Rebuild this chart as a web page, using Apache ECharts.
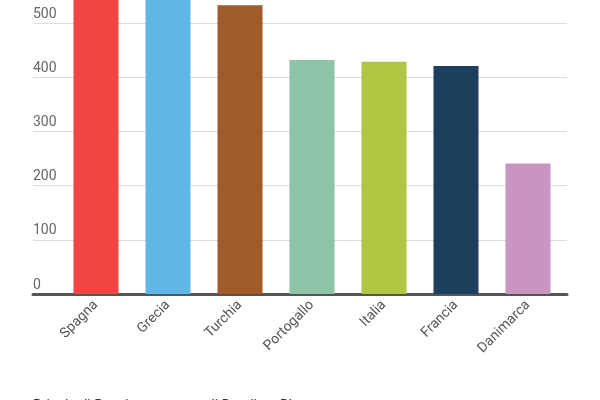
<!DOCTYPE html>
<html>
<head>
<meta charset="utf-8">
<script src="https://cdn.jsdelivr.net/npm/echarts@6/dist/echarts.min.js"></script>
<style>
  html, body { margin: 0; padding: 0; background: #fff; overflow: hidden; }
  /* the chart is taller than the window and shifted up: its top is cropped */
  #chart { width: 600px; height: 431px; position: relative; top: -31px; }
</style>
</head>
<body>
<div id="chart"></div>
<script>
// Bandiere Blu per Paese
const countries = ['Spagna', 'Grecia', 'Turchia', 'Portogallo', 'Italia', 'Francia', 'Danimarca']
const flags = [620, 550, 533, 432, 429, 421, 241]
const yTicks = [0, 100, 200, 300, 400, 500, 600]
const barColors = ['#ef4641', '#5fb7e5', '#a05a2c', '#8ec3a7', '#afc642', '#1b3f5c', '#c995c0']

const chart = echarts.init(document.getElementById('chart'))

const yMin = yTicks[0]
const yMax = yTicks[yTicks.length - 1]
const yStep = yTicks[1] - yTicks[0]

chart.setOption({
  animation: false,
  textStyle: { fontFamily: 'Roboto' },
  grid: [
    // background grid: gridlines + baseline
    { left: 33, right: 33, top: 0, bottom: 106, outerBoundsMode: 'none' },
    // bars
    { left: 60, right: 36, top: 0, bottom: 106, outerBoundsMode: 'none' },
  ],
  xAxis: [
    {
      gridIndex: 0,
      type: 'category',
      data: countries,
      axisLine: { show: true, lineStyle: { color: '#555', width: 3 } },
      axisTick: { show: false },
      axisLabel: { show: false },
    },
    {
      gridIndex: 1,
      type: 'category',
      data: countries,
      axisLine: { show: false },
      axisTick: { show: false },
      axisLabel: {
        rotate: 45,
        margin: 9,
        fontSize: 14,
        color: '#555',
        interval: 0,
      },
    },
  ],
  yAxis: [
    {
      gridIndex: 0,
      type: 'value',
      min: yMin,
      max: yMax,
      interval: yStep,
      axisLine: { show: false },
      axisTick: { show: false },
      axisLabel: {
        inside: true,
        margin: 0,
        fontSize: 14,
        color: '#666',
        verticalAlign: 'bottom',
        padding: [0, 0, 2, 0],
      },
      splitLine: { lineStyle: { color: '#dddddd', width: 1 } },
    },
    {
      gridIndex: 1,
      type: 'value',
      min: yMin,
      max: yMax,
      interval: yStep,
      show: false,
    },
  ],
  series: [
    {
      type: 'bar',
      xAxisIndex: 1,
      yAxisIndex: 1,
      barWidth: 45,
      z: 1,
      data: flags.map((v, i) => ({ value: v, itemStyle: { color: barColors[i] } })),
    },
  ],
  graphic: [
    {
      type: 'text',
      left: 33,
      top: 430,
      style: {
        text: 'Principali Paesi per numero di Bandiere Blu',
        fontSize: 14,
        fontFamily: 'Roboto',
        fill: '#333',
      },
    },
  ],
})
</script>
</body>
</html>
